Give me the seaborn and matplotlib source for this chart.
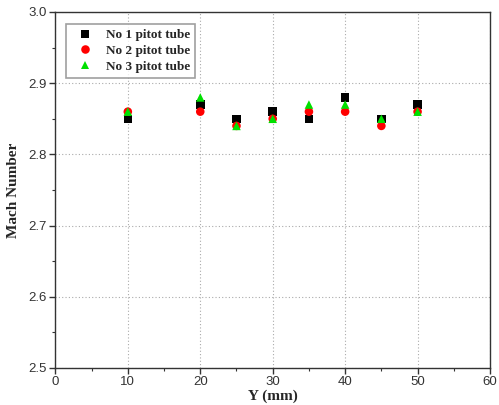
import matplotlib
matplotlib.use("Agg")
import matplotlib.pyplot as plt
import seaborn as sns
import pandas as pd
from matplotlib.ticker import MultipleLocator

y_mm = [10, 20, 25, 30, 35, 40, 45, 50]
no1 = [2.85, 2.87, 2.85, 2.86, 2.85, 2.88, 2.85, 2.87]
no2 = [2.86, 2.86, 2.84, 2.85, 2.86, 2.86, 2.84, 2.86]
no3 = [2.86, 2.88, 2.84, 2.85, 2.87, 2.87, 2.85, 2.86]
series_names = ["No 1 pitot tube", "No 2 pitot tube", "No 3 pitot tube"]

rows = []
for name, vals in zip(series_names, [no1, no2, no3]):
    for x, v in zip(y_mm, vals):
        rows.append({"Y": x, "Mach": v, "Series": name})
df = pd.DataFrame(rows)

sns.set_style("white")
fig = plt.figure(figsize=(4.99, 4.05), dpi=100)
ax = fig.add_axes([0.111, 0.0914, 0.871, 0.879])

palette = {series_names[0]: "#000000", series_names[1]: "#ff0000", series_names[2]: "#00e000"}
markers = {series_names[0]: "s", series_names[1]: "o", series_names[2]: "^"}
sns.scatterplot(data=df, x="Y", y="Mach", hue="Series", style="Series",
                palette=palette, markers=markers, s=38, linewidth=0, ax=ax, zorder=3)

ax.set_xlim(0, 60)
ax.set_ylim(2.5, 3.0)
ax.xaxis.set_major_locator(MultipleLocator(10))
ax.xaxis.set_minor_locator(MultipleLocator(5))
ax.yaxis.set_major_locator(MultipleLocator(0.1))
ax.yaxis.set_minor_locator(MultipleLocator(0.05))
ax.yaxis.set_major_formatter(matplotlib.ticker.FormatStrFormatter("%.1f"))
ax.grid(True, which="major", linestyle=(0, (1, 2)), color="#aaaaaa", linewidth=0.8)
ax.tick_params(which="major", direction="out", length=4, width=1, color="#333333",
               labelsize=9.5, labelcolor="#333333", bottom=True, left=True, pad=2)
ax.tick_params(which="minor", direction="out", length=2, width=0.8, color="#333333",
               bottom=True, left=True)
for lbl in ax.get_xticklabels() + ax.get_yticklabels():
    lbl.set_family("Liberation Sans")
for sp in ax.spines.values():
    sp.set_color("#333333")
    sp.set_linewidth(1.0)

ax.set_xlabel("Y (mm)", family="Liberation Serif", fontweight="bold", fontsize=11, labelpad=1)
ax.set_ylabel("Mach Number", family="Liberation Serif", fontweight="bold", fontsize=11, labelpad=6)

leg = ax.legend(loc="upper left", frameon=True, fancybox=False, shadow=False,
                prop={"family": "Liberation Serif", "weight": "bold", "size": 9.5},
                handletextpad=0.6, borderpad=0.4, labelspacing=0.25,
                bbox_to_anchor=(0.01, 0.985))
leg.get_frame().set_edgecolor("#888888")
leg.get_frame().set_linewidth(1.2)

fig.savefig("out.png", dpi=100)
